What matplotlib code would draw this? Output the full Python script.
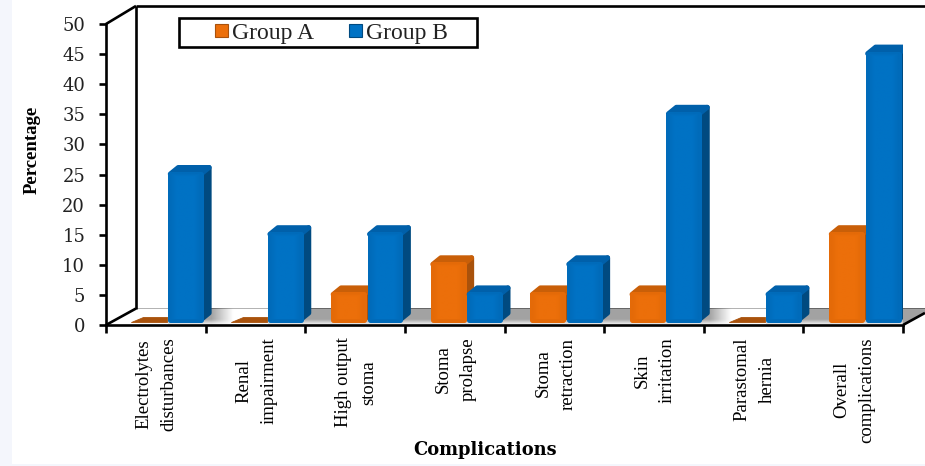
import numpy as np
import matplotlib
matplotlib.use('Agg')
import matplotlib.pyplot as plt
from matplotlib.patches import Polygon, Rectangle, Patch

categories = ['Electrolytes\ndisturbances', 'Renal\nimpairment', 'High output\nstoma',
              'Stoma\nprolapse', 'Stoma\nretraction', 'Skin\nirritation',
              'Parastomal\nhernia', 'Overall\ncomplications']
group_a = [0, 0, 5, 10, 5, 5, 0, 15]
group_b = [25, 15, 15, 5, 10, 35, 5, 45]
y_ticks = list(range(0, 51, 5))

W, H = 925, 466
X0, X1, Y0, Y1 = 106, 903, 325, 24      # plot box in pixels
px_x = (X1 - X0) / 8
px_y = (Y0 - Y1) / 50

# depth of the fake 3d box and of each bar, in data units
wall_dx, wall_dy = 30 / px_x, 16.5 / px_y
bar_dx, bar_dy = 8 / px_x, 6.5 / px_y
bar_lift = 3 / px_y
top_lift = 3 / px_y
bar_w = 0.36
# polygons are shrunk by this much and stroked, which rounds their corners
pad_px = 2.5
pad_x, pad_y = pad_px / px_x, pad_px / px_y

# front centre, front edge, side, top
ORANGE = ('#ec6f0a', '#e46a08', '#a9520c', '#c95f08')
BLUE = ('#0072c4', '#006bba', '#004a80', '#0060aa')
SERIF = 'Liberation Serif'
SLAB = 'DejaVu Serif'


def front_shading(centre, edge, w_px, h_px):
    # face colour that darkens slightly towards its left, right and top edges
    c0 = np.array(matplotlib.colors.to_rgb(centre))
    c1 = np.array(matplotlib.colors.to_rgb(edge))
    xs = np.arange(max(int(w_px), 2))
    ys = np.arange(max(int(h_px), 2))
    wx = np.clip(np.minimum(xs, xs[::-1]) / 6, 0, 1)
    wy = np.clip(ys[::-1] / 3, 0, 1)
    w = np.minimum(wx[None, :], wy[:, None])[..., None]
    return c1 + (c0 - c1) * w


def draw_bar(ax, x, v, colors, z):
    centre, edge, side, top = colors
    left, right = x + pad_x, x + bar_w - pad_x
    bottom = bar_lift + pad_y
    style = dict(lw=pad_px * 1.44, joinstyle='round', zorder=z)
    if v > 0:
        upper = v + top_lift - pad_y
        ax.add_patch(Polygon([(right, bottom), (right + bar_dx, bottom + bar_dy),
                              (right + bar_dx, upper + bar_dy), (right, upper)],
                             fc=side, ec=side, **style))
        ax.add_patch(Polygon([(left, upper), (right, upper),
                              (right + bar_dx, upper + bar_dy), (left + bar_dx, upper + bar_dy)],
                             fc=top, ec=top, **style))
        ax.add_patch(Rectangle((left, bottom), right - left, upper - bottom,
                               fc=edge, ec=edge, **style))
        img = front_shading(centre, edge, (right - left) * px_x, (upper - bottom) * px_y)
        ax.imshow(img, extent=(left, right, bottom, upper), origin='lower', aspect='auto',
                  zorder=z + 0.001, interpolation='bilinear')
    else:
        # empty bar: only the flat lid lying on the floor
        ax.add_patch(Polygon([(x, bar_lift), (x + bar_w, bar_lift), (x + bar_w, bar_lift + 5.5 / px_y),
                              (x + 12 / px_x, bar_lift + 5.5 / px_y)],
                             fc=side, ec=side, lw=0.6, joinstyle='round', zorder=z))


def light_patch(ax, clip, x_start, x_end, ramp):
    # white floor area fading to grey on its left side
    n = 100
    img = np.ones((1, n, 4))
    img[0, :, 3] = np.clip(np.linspace(0, (x_end - x_start) / ramp, n), 0, 1)
    im = ax.imshow(img, extent=(x_start, x_end, 0, wall_dy), aspect='auto', zorder=1.5)
    im.set_clip_path(clip)


fig = plt.figure(figsize=(W / 100, H / 100), dpi=100)
# pale strips along the left and bottom edges
fig.patches.append(Rectangle((0, 0), 12 / W, 1, transform=fig.transFigure, fc='#f4f6fc', ec='none'))
fig.patches.append(Rectangle((0, 0), 1, 2.5 / H, transform=fig.transFigure, fc='#f4f6fc', ec='none'))

ax = fig.add_axes([X0 / W, (H - Y0) / H, (X1 - X0) / W, (Y0 - Y1) / H])
ax.patch.set_alpha(0)
lw = 1.9

# floor, grey at the back and fading to white at its front edge
floor = Polygon([(0, 0), (8, 0), (8 + wall_dx, wall_dy), (wall_dx, wall_dy)],
                fc='#a2a2a2', ec='none', zorder=1, clip_on=False)
ax.add_patch(floor)
light_patch(ax, floor, 0, 0.62, 0.01)
light_patch(ax, floor, 1.05, 1.62, 0.22)
light_patch(ax, floor, 6.05, 6.62, 0.22)
fade = np.ones((20, 1, 4))
fade[:, 0, 3] = np.linspace(0.95, 0, 20)
im = ax.imshow(fade, extent=(0, 8 + wall_dx, 0, 6 / px_y), origin='lower', aspect='auto', zorder=1.6)
im.set_clip_path(floor)

# back wall and box edges
edge = dict(color='black', lw=lw, clip_on=False, solid_capstyle='butt')
ax.plot([wall_dx, wall_dx], [wall_dy, 50 + 3], zorder=3, **edge)
ax.plot([0, wall_dx], [50, 53], zorder=3, **edge)
ax.plot([wall_dx, 8.22], [53, 53], zorder=3, **edge)
ax.plot([0, wall_dx], [0, wall_dy], zorder=1.7, **edge)
ax.plot([wall_dx, 8.22], [wall_dy, wall_dy], zorder=0.9, **edge)
ax.plot([8, 8.22], [0, 0.22 / wall_dx * wall_dy], zorder=3, **edge)

# bars
for i in range(len(categories)):
    draw_bar(ax, i + 0.255, group_a[i], ORANGE, 4 + i * 0.1)
    draw_bar(ax, i + 0.62, group_b[i], BLUE, 4.05 + i * 0.1)

ax.set_xlim(0, 8)
ax.set_ylim(0, 50)
for s in ['top', 'right']:
    ax.spines[s].set_visible(False)
for s in ['left', 'bottom']:
    ax.spines[s].set_linewidth(lw)
    ax.spines[s].set_zorder(5)

ax.set_yticks(y_ticks)
ax.set_yticklabels([str(t) for t in y_ticks], family=SLAB, fontsize=13, color='#222222')
ax.tick_params(axis='y', length=5, width=lw, pad=10)

ax.set_xticks(range(9))
ax.set_xticklabels([])
ax.tick_params(axis='x', which='major', length=6, width=lw)
ax.set_xticks(np.arange(8) + 0.51, minor=True)
ax.set_xticklabels(categories, minor=True, rotation=90, family=SERIF, fontsize=13.5,
                   va='top', ha='center', linespacing=1.6)
ax.tick_params(axis='x', which='minor', length=0, pad=9)

fig.text(32 / W, 1 - 150 / H, 'Percentage', rotation=90, family=SERIF, weight='bold',
         fontsize=13.5, ha='center', va='center')
fig.text(485 / W, 1 - 450 / H, 'Complications', family=SLAB, weight='bold',
         fontsize=12.9, ha='center', va='center')

# legend
fig.patches.append(Rectangle((179 / W, 1 - 47 / H), 298 / W, 29 / H, transform=fig.transFigure,
                             fc='white', ec='black', lw=lw, zorder=6))
handles = [Patch(fc=ORANGE[0], ec=ORANGE[2], lw=0.8, label='Group A'),
           Patch(fc=BLUE[0], ec=BLUE[2], lw=0.8, label='Group B')]
leg = fig.legend(handles=handles, ncol=2, frameon=False, loc='center',
                 bbox_to_anchor=(331.5 / W, 1 - 33.5 / H), prop={'family': SERIF, 'size': 17},
                 handlelength=0.55, handleheight=0.45, handletextpad=0.17, columnspacing=1.48,
                 borderpad=0, labelcolor='#222222')
leg.set_zorder(7)

fig.savefig('out.png', dpi=100)
